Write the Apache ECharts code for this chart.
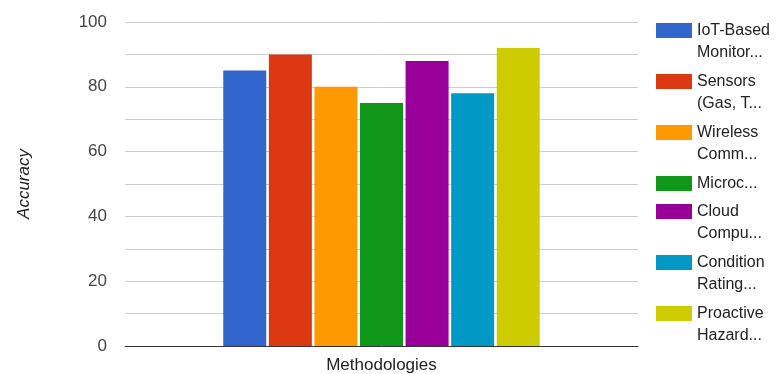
<!DOCTYPE html>
<html>
<head>
<meta charset="utf-8">
<script src="https://cdn.jsdelivr.net/npm/echarts@6/dist/echarts.min.js"></script>
<style>
  html, body { margin: 0; padding: 0; background: #ffffff; }
  #chart { width: 778px; height: 374px; }
</style>
</head>
<body>
<div id="chart"></div>
<script>
// Category on the x axis
const categories = ['Methodologies'];

// One series per methodology (legend labels as shown, wrapped onto two lines where needed)
const seriesNames = [
  'IoT-Based\nMonitor...',
  'Sensors\n(Gas, T...',
  'Wireless\nComm...',
  'Microc...',
  'Cloud\nCompu...',
  'Condition\nRating...',
  'Proactive\nHazard...'
];

// Accuracy per methodology
const accuracy = [85, 90, 80, 75, 88, 78, 92];

// Labelled y-axis ticks
const yTickLabels = [0, 20, 40, 60, 80, 100];

// Bar colours
const palette = ['#3366cc', '#dc3912', '#ff9900', '#109618', '#990099', '#0099c6', '#cccc00'];

const FONT = '"Liberation Sans", Arial, sans-serif';
const LINE_H = 22;       // legend text line height
const SWATCH_W = 36;
const SWATCH_H = 15;

const series = seriesNames.map((name, i) => ({
  name: name,
  type: 'bar',
  data: [accuracy[i]],
  barWidth: 43,
  barGap: '6%',
  itemStyle: { color: palette[i] },
  emphasis: { disabled: true }
}));

// Each legend entry is its own block so the swatch lines up with the first text line.
// Wrapped entries use a taller icon box whose painted swatch sits at the top.
function legendBlocks() {
  const blocks = [];
  let swatchTop = 20;
  seriesNames.forEach(name => {
    const lines = name.split('\n').length;
    const boxH = lines > 1 ? SWATCH_H + (lines - 1) * LINE_H : SWATCH_H;
    const textTop = boxH / 2 - lines * LINE_H / 2;    // text block is centred on the icon box
    const offset = Math.min(0, textTop + (LINE_H - 16) / 2);
    blocks.push({
      orient: 'vertical',
      left: 656,
      top: swatchTop + offset,
      padding: 0,
      itemWidth: SWATCH_W,
      itemHeight: boxH,
      itemGap: 0,
      selectedMode: false,
      icon: lines > 1
        ? 'path://M0,0h' + SWATCH_W + 'v' + SWATCH_H + 'h-' + SWATCH_W + 'zM0,' + boxH
        : 'rect',
      textStyle: { fontFamily: FONT, fontSize: 16, color: '#222222', lineHeight: LINE_H },
      data: [name]
    });
    swatchTop += lines > 1 ? 51 : 28;
  });
  return blocks;
}

const chart = echarts.init(document.getElementById('chart'), null, { renderer: 'canvas' });
chart.setOption({
  animation: false,
  backgroundColor: '#ffffff',
  textStyle: { fontFamily: FONT },
  grid: { left: 125, right: 140, top: 22, bottom: 28, containLabel: false },
  legend: legendBlocks(),
  xAxis: {
    type: 'category',
    data: categories,
    axisTick: { show: false },
    axisLine: { show: true, lineStyle: { color: '#333333', width: 1 } },
    axisLabel: { fontFamily: FONT, fontSize: 17, color: '#222222', margin: 11 },
    splitLine: { show: false }
  },
  yAxis: {
    type: 'value',
    min: 0,
    max: 100,
    interval: 10,
    name: 'Accuracy',
    nameLocation: 'middle',
    nameGap: 92,
    nameTextStyle: { fontFamily: FONT, fontSize: 17, fontStyle: 'italic', color: '#222222' },
    axisLine: { show: false },
    axisTick: { show: false },
    axisLabel: {
      fontFamily: FONT,
      fontSize: 17,
      color: '#444444',
      margin: 18,
      formatter: v => (yTickLabels.indexOf(v) >= 0 ? String(v) : '')
    },
    splitLine: { show: true, lineStyle: { color: '#cccccc', width: 1 } }
  },
  series: series
});
</script>
</body>
</html>
